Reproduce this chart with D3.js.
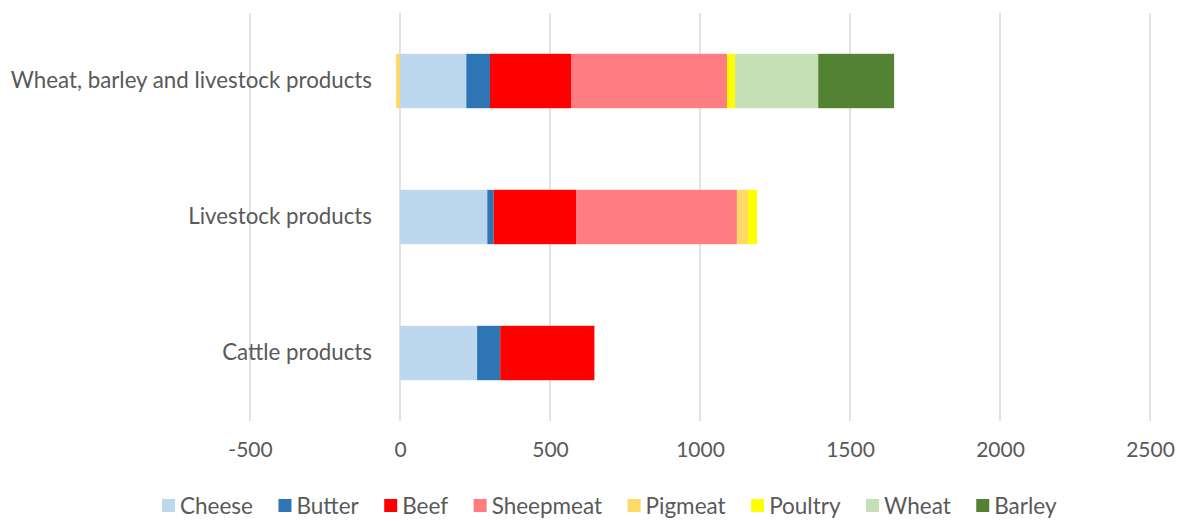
<!DOCTYPE html>
<html>
<head>
<meta charset="utf-8">
<script src="https://cdn.jsdelivr.net/npm/d3@7"></script>
<style>
  html, body { margin: 0; padding: 0; background: #fff; }
  svg text { font-family: Lato, "Open Sans", sans-serif; fill: #595959; }
</style>
</head>
<body>
<svg id="chart" width="1185" height="521"></svg>
<script>
// Product groups, bottom to top as drawn
const categories = ["Cattle products", "Livestock products", "Wheat, barley and livestock products"];
const seriesNames = ["Cheese", "Butter", "Beef", "Sheepmeat", "Pigmeat", "Poultry", "Wheat", "Barley"];
const seriesColors = ["#bdd7ee", "#2e75b6", "#ff0000", "#ff7c80", "#ffd966", "#ffff00", "#c5e0b4", "#548235"];

// Values per series, in the same order as categories
const cheese    = [257, 291, 221];
const butter    = [77, 21, 79];
const beef      = [314, 275, 270];
const sheepmeat = [0, 536, 520];
const pigmeat   = [0, 37, -13];
const poultry   = [0, 30, 27];
const wheat     = [0, 0, 277];
const barley    = [0, 0, 253];

const tickValues = [-500, 0, 500, 1000, 1500, 2000, 2500];

const seriesValues = [cheese, butter, beef, sheepmeat, pigmeat, poultry, wheat, barley];
const rows = categories.map((c, i) => {
  const r = { category: c };
  seriesNames.forEach((s, k) => { r[s] = seriesValues[k][i]; });
  return r;
});

const svg = d3.select("#chart");
const plot = { left: 250, right: 1150, top: 13, bottom: 421 };

const x = d3.scaleLinear().domain([-500, 2500]).range([plot.left, plot.right]);
const y = d3.scaleBand()
  .domain(categories.slice().reverse())
  .range([plot.top, plot.bottom])
  .paddingInner(0.6).paddingOuter(0.3);

// Vertical gridlines
svg.append("g")
  .selectAll("line")
  .data(tickValues)
  .join("line")
  .attr("x1", d => x(d)).attr("x2", d => x(d))
  .attr("y1", plot.top).attr("y2", plot.bottom)
  .attr("stroke", "#d9d9d9").attr("stroke-width", 1.5);

// Stacked bars (negatives stack to the left of zero)
const stack = d3.stack().keys(seriesNames).offset(d3.stackOffsetDiverging);
const layers = stack(rows);

svg.append("g")
  .selectAll("g")
  .data(layers)
  .join("g")
  .attr("fill", (d, i) => seriesColors[i])
  .selectAll("rect")
  .data(d => d.filter(p => p[1] - p[0] !== 0))
  .join("rect")
  .attr("x", d => x(Math.min(d[0], d[1])))
  .attr("width", d => Math.abs(x(d[1]) - x(d[0])))
  .attr("y", d => y(d.data.category))
  .attr("height", y.bandwidth());

// X axis labels
const xAxis = d3.axisBottom(x).tickValues(tickValues).tickSize(0).tickPadding(0).tickFormat(d => String(d));
const gx = svg.append("g").attr("transform", `translate(0, ${plot.bottom + 21})`).call(xAxis);
gx.select(".domain").remove();
gx.selectAll("text").attr("font-size", 21).style("font-family", "Lato, 'Open Sans', sans-serif").attr("fill", "#595959").attr("dy", "0.71em");

// Category labels
const yAxis = d3.axisLeft(y).tickSize(0).tickPadding(0);
const gy = svg.append("g").attr("transform", `translate(372, 0)`).call(yAxis);
gy.select(".domain").remove();
gy.selectAll("text").attr("font-size", 22.3).style("font-family", "Lato, 'Open Sans', sans-serif").attr("fill", "#595959");

// Legend
const legend = svg.append("g").attr("transform", "translate(0, 506)");
let lx = 162;
seriesNames.forEach((name, i) => {
  const g = legend.append("g").attr("transform", `translate(${lx}, 0)`);
  g.append("rect").attr("x", 0).attr("y", -7).attr("width", 13).attr("height", 13).attr("fill", seriesColors[i]);
  const t = g.append("text").attr("x", 18).attr("dy", "0.35em").attr("font-size", 22.5).text(name);
  lx += 18 + t.node().getComputedTextLength() + 25.5;
});
</script>
</body>
</html>
